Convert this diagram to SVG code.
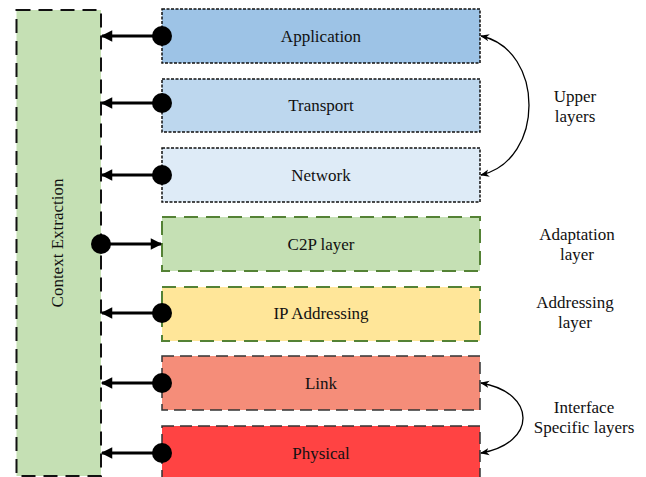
<svg xmlns="http://www.w3.org/2000/svg" width="646" height="477" viewBox="0 0 646 477" font-family="Liberation Serif, Times New Roman, Times, serif">
  <style>
    text { font-size: 17px; fill: #111; text-anchor: middle; }
    .dotted { stroke: #111; stroke-width: 1.5; stroke-dasharray: 3 1.5; }
    .green { stroke: #548235; stroke-width: 2; stroke-dasharray: 14 8; }
    .dark { stroke: #333; stroke-width: 1.5; stroke-dasharray: 12 6; }
    .link { stroke: #000; stroke-width: 3; fill: none; }
    .curve { stroke: #000; stroke-width: 1.3; fill: none; }
  </style>
  <defs>
    <marker id="head" viewBox="0 0 10 10" refX="9" refY="5" markerWidth="5.5" markerHeight="3.8" markerUnits="strokeWidth" orient="auto">
      <path d="M0,0 L10,5 L0,10 z" fill="#000"/>
    </marker>
    <marker id="small" viewBox="0 0 10 10" refX="9" refY="5" markerWidth="7" markerHeight="7" markerUnits="strokeWidth" orient="auto-start-reverse">
      <path d="M0,1 L10,5 L0,9 L3,5 z" fill="#000"/>
    </marker>
  </defs>

  <g id="context-extraction">
    <rect x="16.5" y="10" width="84.5" height="466" fill="#C5E0B4" stroke="#111" stroke-width="2" stroke-dasharray="14 8"/>
    <text x="0" y="0" transform="translate(63,243) rotate(-90)">Context Extraction</text>
  </g>

  <g id="application">
    <rect x="162" y="9" width="318" height="54" fill="#9DC3E6" class="dotted"/>
    <text x="321" y="42">Application</text>
  </g>
  <g id="transport">
    <rect x="162" y="79" width="318" height="53" fill="#BDD7EE" class="dotted"/>
    <text x="321" y="111">Transport</text>
  </g>
  <g id="network">
    <rect x="162" y="148" width="318" height="54" fill="#DEEBF7" class="dotted"/>
    <text x="321" y="181">Network</text>
  </g>
  <g id="c2p">
    <rect x="162" y="217" width="318" height="54" fill="#C5E0B4" class="green"/>
    <text x="321" y="250">C2P layer</text>
  </g>
  <g id="ip-addressing">
    <rect x="162" y="287" width="318" height="54" fill="#FFE699" class="green"/>
    <text x="321" y="319">IP Addressing</text>
  </g>
  <g id="link">
    <rect x="162" y="356" width="318" height="54" fill="#F58D79" class="dark"/>
    <text x="321" y="389">Link</text>
  </g>
  <g id="physical">
    <rect x="162" y="426" width="318" height="52" fill="#FF4343" class="dark"/>
    <text x="321" y="459">Physical</text>
  </g>

  <g id="side-labels">
    <text x="575" y="102">Upper</text>
    <text x="575" y="122">layers</text>
    <text x="577" y="240">Adaptation</text>
    <text x="577" y="260">layer</text>
    <text x="575" y="308">Addressing</text>
    <text x="575" y="328">layer</text>
    <text x="584" y="413">Interface</text>
    <text x="584" y="433">Specific layers</text>
  </g>

  <g id="connectors">
    <line x1="162" y1="36" x2="102" y2="36" class="link" marker-end="url(#head)"/>
    <circle cx="162" cy="36" r="10" fill="#000"/>
    <line x1="162" y1="103" x2="102" y2="103" class="link" marker-end="url(#head)"/>
    <circle cx="162" cy="103" r="10" fill="#000"/>
    <line x1="162" y1="175" x2="102" y2="175" class="link" marker-end="url(#head)"/>
    <circle cx="162" cy="175" r="10" fill="#000"/>
    <line x1="101" y1="244" x2="161" y2="244" class="link" marker-end="url(#head)"/>
    <circle cx="101" cy="244" r="10" fill="#000"/>
    <line x1="162" y1="313" x2="102" y2="313" class="link" marker-end="url(#head)"/>
    <circle cx="162" cy="313" r="10" fill="#000"/>
    <line x1="162" y1="383" x2="102" y2="383" class="link" marker-end="url(#head)"/>
    <circle cx="162" cy="383" r="10" fill="#000"/>
    <line x1="162" y1="453" x2="102" y2="453" class="link" marker-end="url(#head)"/>
    <circle cx="162" cy="453" r="10" fill="#000"/>

    <path d="M481,36 C545,50 545,160 481,175" class="curve" marker-start="url(#small)" marker-end="url(#small)"/>
    <path d="M481,383 C537,393 537,443 481,453" class="curve" marker-start="url(#small)" marker-end="url(#small)"/>
  </g>
</svg>
